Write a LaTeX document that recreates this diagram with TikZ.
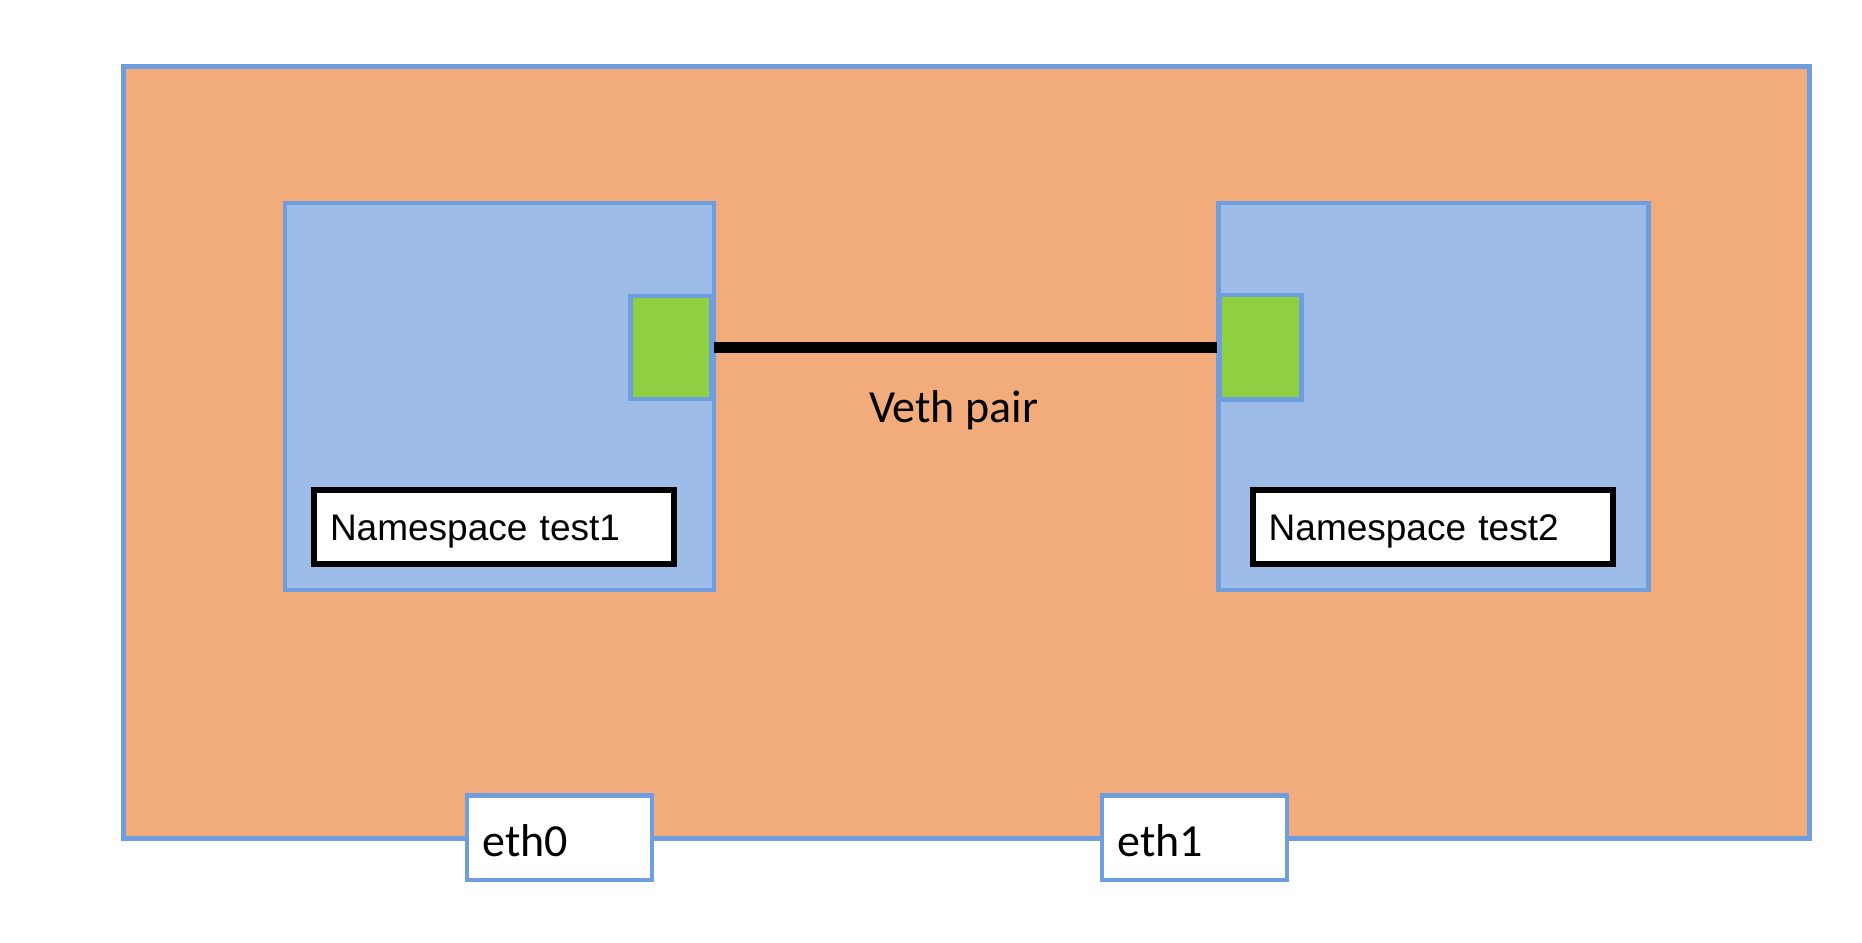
\documentclass[tikz,border=0pt]{standalone}
\usepackage{fontspec}
\newfontfamily\helv{Liberation Sans}
\newfontfamily\calib{Carlito}
\definecolor{hostfill}{HTML}{F2AC7B}
\definecolor{edgeblue}{HTML}{6E9DE0}
\definecolor{nsfill}{HTML}{9DBCE8}
\definecolor{vethgreen}{HTML}{8ED042}
\newcommand{\lowertext}[2]{\raisebox{-#1}[\height][\depth]{#2}}
\begin{document}
\begin{tikzpicture}[x=1pt,y=-1pt,
  hostbox/.style={draw=edgeblue,fill=hostfill,line width=4.5pt,inner sep=0pt},
  nsbox/.style={draw=edgeblue,fill=nsfill,line width=4.5pt,inner sep=0pt},
  portbox/.style={draw=edgeblue,fill=vethgreen,line width=4.5pt,inner sep=0pt},
  labelbox/.style={draw=black,fill=white,line width=6pt,inner xsep=16pt,inner ysep=0pt,
     minimum height=73.6pt,text width=328pt,align=left,font=\helv\fontsize{37}{40}\selectfont},
  ethbox/.style={draw=edgeblue,fill=white,line width=4.5pt,inner xsep=15.5pt,inner ysep=0pt,
     minimum height=84.4pt,text width=154pt,align=left,font=\calib\fontsize{46}{50}\selectfont},
  vethline/.style={draw=black,line width=11pt}
]
\useasboundingbox[fill=white] (0,0) rectangle (1862,942);
\node[hostbox,minimum width=1686pt,minimum height=772pt] (host) at (966.6,452.5) {};
\node[nsbox,minimum width=428.7pt,minimum height=387pt] (ns1) at (499.4,396.6) {};
\node[nsbox,minimum width=430pt,minimum height=387pt] (ns2) at (1433.4,396.6) {};
\node[portbox,minimum width=80.7pt,minimum height=103.3pt] (g1) at (671,347.4) {};
\node[portbox,minimum width=82pt,minimum height=104.5pt] (g2) at (1260.5,347.4) {};
\draw[vethline] (g1.east) -- (g2.west);
\node[font=\calib\fontsize{46}{50}\selectfont,inner sep=0pt] (veth) at (953.6,410) {Veth pair};
\node[labelbox] (lab1) at (494,527.2) {\lowertext{4pt}{Namespace test1}};
\node[labelbox] (lab2) at (1432.7,527.2) {\lowertext{4pt}{Namespace test2}};
\node[ethbox] (eth0) at (559.4,837.8) {\lowertext{3pt}{eth0}};
\node[ethbox] (eth1) at (1194.7,837.8) {\lowertext{3pt}{eth1}};
\end{tikzpicture}
\end{document}
